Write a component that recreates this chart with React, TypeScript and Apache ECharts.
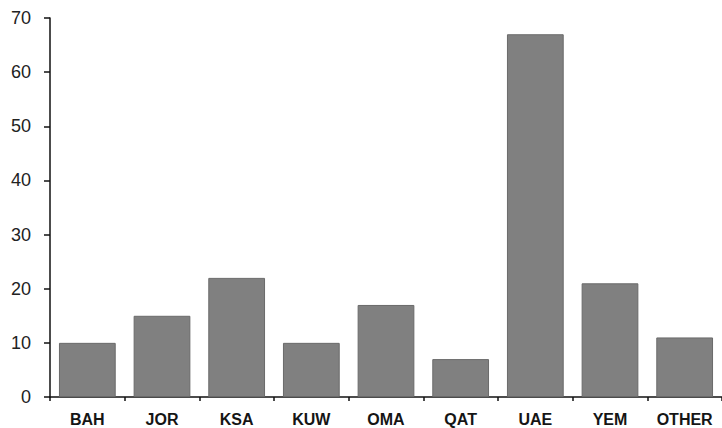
import React, { useEffect, useRef } from "react";
import * as echarts from "echarts";

const categories = ["BAH", "JOR", "KSA", "KUW", "OMA", "QAT", "UAE", "YEM", "OTHER"];
const values = [10, 15, 22, 10, 17, 7, 67, 21, 11];

export default function App() {
  const ref = useRef<HTMLDivElement>(null);
  useEffect(() => {
    const chart = echarts.init(ref.current!, null, { renderer: "svg" });
    chart.setOption({
      animation: false,
      backgroundColor: "#ffffff",
      grid: { left: 50, top: 18, width: 675, height: 379 },
      xAxis: {
        type: "category",
        data: categories,
        axisLine: { lineStyle: { color: "#111", width: 1.5 } },
        axisTick: { show: true, length: 4, alignWithLabel: false, lineStyle: { color: "#111", width: 1.5 } },
        axisLabel: {
          interval: 0,
          color: "#151515",
          fontFamily: "Liberation Sans, Arial, sans-serif",
          fontWeight: "bold",
          fontSize: 16,
          margin: 14,
        },
      },
      yAxis: {
        type: "value",
        min: 0,
        max: 70,
        interval: 10,
        splitLine: { show: false },
        axisLine: { show: true, lineStyle: { color: "#111", width: 1.5 } },
        axisTick: { show: true, length: 6, lineStyle: { color: "#111", width: 1.5 } },
        axisLabel: {
          color: "#222",
          fontFamily: "Liberation Sans, Arial, sans-serif",
          fontSize: 18,
          margin: 19,
        },
      },
      series: [
        {
          type: "bar",
          data: values,
          barWidth: "76%",
          itemStyle: { color: "#808080", borderColor: "#6a6a6a", borderWidth: 1 },
        },
      ],
    });
    return () => chart.dispose();
  }, []);
  return (
    <div
      ref={ref}
      style={{ position: "fixed", left: 0, top: 0, width: 722, height: 428 }}
    />
  );
}
